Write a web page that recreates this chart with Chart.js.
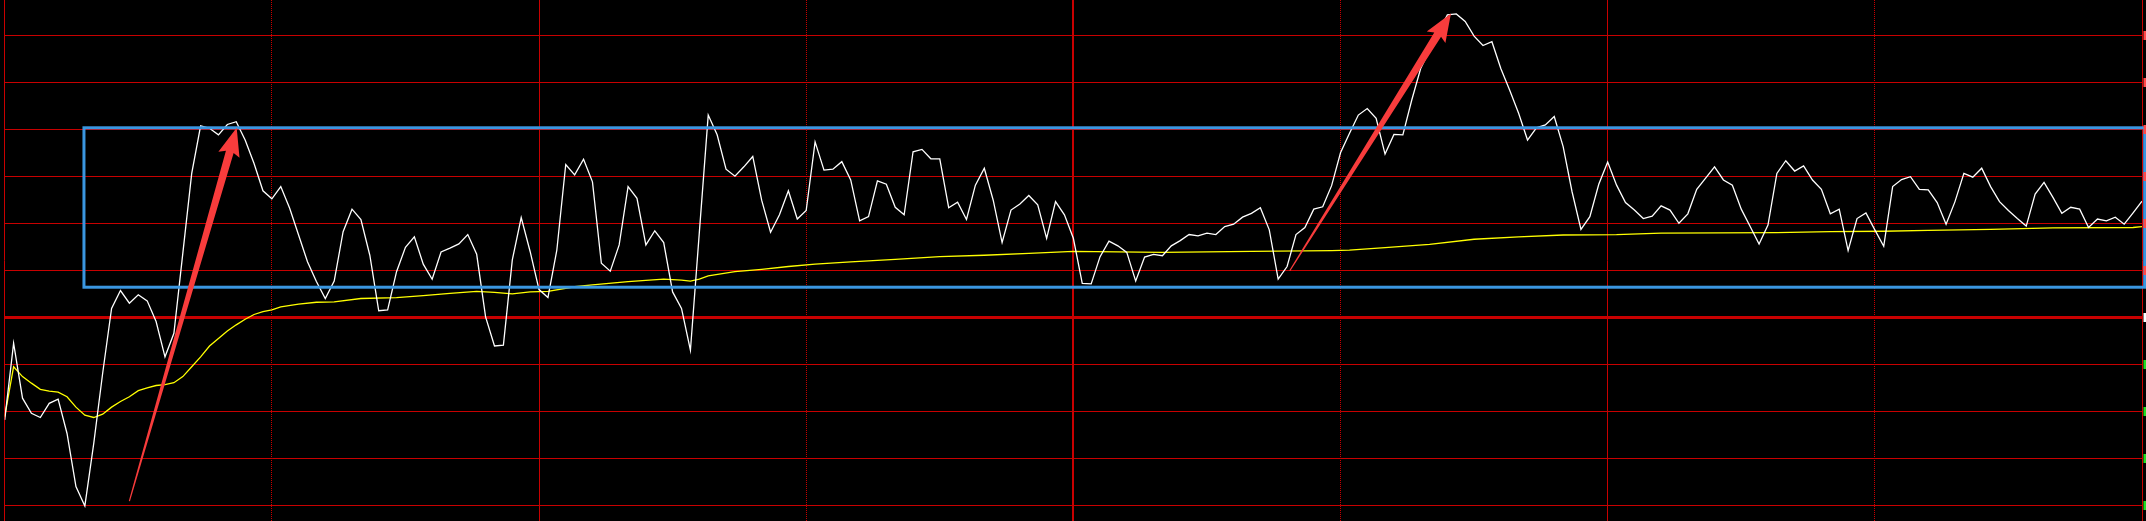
<!DOCTYPE html>
<html>
<head>
<meta charset="utf-8">
<title>分时走势</title>
<script src="https://cdn.jsdelivr.net/npm/chart.js@4/dist/chart.umd.min.js"></script>
<style>
html,body{margin:0;padding:0;background:#000;overflow:hidden}
canvas{display:block}
</style>
</head>
<body>
<canvas id="grafico" width="2146" height="521"></canvas>
<script>

// one value per minute, 9:30 .. 15:00 (241 points), in grid divisions from prev close
let prices=[
-2.18,-0.55,-1.72,-2.04,-2.13,-1.83,-1.74,-2.47,-3.60,-4.01,
-2.68,-1.19,0.19,0.57,0.30,0.48,0.35,-0.09,-0.84,-0.34,
1.36,3.06,4.07,4.02,3.88,4.10,4.16,3.77,3.27,2.69,
2.52,2.78,2.32,1.75,1.18,0.76,0.40,0.77,1.82,2.30,
2.08,1.32,0.14,0.16,0.97,1.49,1.71,1.13,0.81,1.39,
1.47,1.56,1.76,1.34,0.01,-0.61,-0.59,1.22,2.12,1.40,
0.59,0.42,1.43,3.25,3.03,3.36,2.88,1.15,0.98,1.54,
2.78,2.53,1.54,1.84,1.59,0.54,0.19,-0.70,1.80,4.30,
3.88,3.15,3.00,3.20,3.42,2.49,1.81,2.18,2.69,2.09,
2.27,3.73,3.13,3.15,3.31,2.92,2.05,2.14,2.90,2.83,
2.34,2.18,3.52,3.57,3.37,3.37,2.33,2.45,2.08,2.81,
3.17,2.49,1.59,2.28,2.41,2.59,2.39,1.68,2.46,2.18,
1.68,0.72,0.71,1.29,1.62,1.52,1.38,0.77,1.28,1.34,
1.31,1.52,1.63,1.76,1.73,1.79,1.76,1.93,1.98,2.13,
2.21,2.33,1.86,0.81,1.08,1.76,1.91,2.30,2.35,2.80,
3.50,3.91,4.30,4.44,4.23,3.47,3.89,3.88,4.62,5.29,
5.68,6.07,6.43,6.45,6.29,5.98,5.78,5.86,5.29,4.83,
4.34,3.77,4.03,4.09,4.27,3.63,2.67,1.87,2.14,2.83,
3.30,2.81,2.44,2.28,2.10,2.15,2.37,2.28,2.00,2.20,
2.72,2.96,3.20,2.92,2.81,2.30,1.93,1.56,1.96,3.06,
3.33,3.11,3.22,2.92,2.72,2.20,2.30,1.42,2.10,2.22,
1.86,1.51,2.78,2.93,2.99,2.72,2.71,2.44,1.98,2.46,
3.06,2.98,3.17,2.78,2.46,2.27,2.10,1.94,2.62,2.87,
2.55,2.21,2.34,2.30,1.91,2.09,2.05,2.13,1.98,2.22,
2.47
]

// average price line, read at these minutes
let avgMinutes=[
0,1,2,3,4,5,6,7,8,9,10,11,12,13,14,15,16,17,18,19,20,21,22,23,24,25,26,27,28,29,30,31,
33,35,37,40,44,47,50,53,55,57,59,61,64,66,70,74,76,77,78,79,82,85,88,91,95,100,105,110,115,120,
130,140,149,151,155,160,165,170,175,181,186,199,205,211,216,223,230,239,240
]
let avgValues=[
-2.11,-1.05,-1.26,-1.40,-1.53,-1.57,-1.59,-1.69,-1.91,-2.08,-2.13,-2.06,-1.91,-1.79,-1.69,-1.56,-1.50,-1.45,-1.43,-1.39,-1.26,-1.05,-0.84,-0.61,-0.45,-0.29,-0.16,-0.04,0.06,0.12,0.16,0.22,
0.28,0.32,0.33,0.40,0.42,0.46,0.51,0.55,0.53,0.50,0.54,0.55,0.65,0.69,0.76,0.81,0.79,0.77,0.81,0.88,0.97,1.02,1.08,1.13,1.18,1.23,1.29,1.32,1.36,1.40,
1.38,1.40,1.42,1.43,1.48,1.55,1.66,1.71,1.75,1.76,1.79,1.80,1.82,1.83,1.85,1.87,1.90,1.91,1.93
]

let hourTicks=[0,60,120,180,240]
let halfHourTicks=[30,90,150,210]
let priceTicks=[-4,-3,-2,-1,0,1,2,3,4,5,6]
let yRange=[-4.331,6.747]

// blue box [minute from, minute to, value low, value high]
let box=[8.9,240.3,0.64,4.03]
// red arrows [tail minute, tail value, tip minute, tip value]
let arrows=[
[14.0,-3.91,26.05,4.03],
[144.3,0.99,162.4,6.46]
]

let gridRed='#c80000'

function drawArrow(ctx,x0,y0,x1,y1){

let dx=x1-x0
let dy=y1-y0
let len=Math.hypot(dx,dy)
let ux=dx/len,uy=dy/len
let nx=-uy,ny=ux

let headLen=25
let headW=11
let shaftW=4
let tailW=0.6

let bx=x1-ux*headLen
let by=y1-uy*headLen

ctx.beginPath()
ctx.moveTo(x0+nx*tailW,y0+ny*tailW)
ctx.lineTo(bx+nx*shaftW,by+ny*shaftW)
ctx.lineTo(bx-ux*3+nx*headW,by-uy*3+ny*headW)
ctx.lineTo(x1,y1)
ctx.lineTo(bx-ux*3-nx*headW,by-uy*3-ny*headW)
ctx.lineTo(bx-nx*shaftW,by-ny*shaftW)
ctx.lineTo(x0-nx*tailW,y0-ny*tailW)
ctx.closePath()
ctx.fill()

}

let marks={
id:'marks',
afterDatasetsDraw(chart){

let ctx=chart.ctx
let x=chart.scales.x
let y=chart.scales.y

ctx.save()

let l=x.getPixelForValue(box[0])
let r=x.getPixelForValue(box[1])
let t=y.getPixelForValue(box[3])
let b=y.getPixelForValue(box[2])

ctx.strokeStyle='#3a96e0'
ctx.lineWidth=3
ctx.strokeRect(l,t,r-l,b-t)

ctx.fillStyle='#f83c3c'
arrows.forEach(a=>{
drawArrow(
ctx,
x.getPixelForValue(a[0]),
y.getPixelForValue(a[1]),
x.getPixelForValue(a[2]),
y.getPixelForValue(a[3])
)
})

// clipped price labels on the right edge
priceTicks.forEach(v=>{
ctx.fillStyle=v>0?'#ff4a4a':(v<0?'#22dd22':'#ffffff')
let py=Math.round(y.getPixelForValue(v))
ctx.fillRect(chart.width-2.5,py-4,2.5,9)
})

ctx.restore()

}
}

let ctx=document.getElementById('grafico')

new Chart(ctx,{
type:'line',
data:{
datasets:[
{
label:'价格',
data:prices.map((v,i)=>({x:i,y:v})),
borderColor:'#ffffff',
borderWidth:1.3,
pointRadius:0,
tension:0
},
{
label:'均价',
data:avgMinutes.map((m,i)=>({x:m,y:avgValues[i]})),
borderColor:'#ffff00',
borderWidth:1.3,
pointRadius:0,
tension:0
}
]
},
options:{
responsive:false,
animation:false,
events:[],
devicePixelRatio:1,
layout:{
padding:{left:4.7,right:4,top:0,bottom:0}
},
plugins:{
legend:{display:false},
tooltip:{enabled:false}
},
scales:{
x:{
type:'linear',
min:0,
max:240,
afterBuildTicks:s=>{s.ticks=hourTicks.map(v=>({value:v}))},
afterFit:s=>{s.height=0},
ticks:{display:false},
border:{display:false},
grid:{
drawTicks:false,
color:gridRed,
lineWidth:c=>(c.tick&&c.tick.value===120)?2:1
}
},
x2:{
type:'linear',
position:'bottom',
min:0,
max:240,
afterBuildTicks:s=>{s.ticks=halfHourTicks.map(v=>({value:v}))},
afterFit:s=>{s.height=0},
ticks:{display:false},
border:{display:false,dash:[1,1]},
grid:{
drawTicks:false,
color:gridRed,
lineWidth:1
}
},
y:{
min:yRange[0],
max:yRange[1],
afterBuildTicks:s=>{s.ticks=priceTicks.map(v=>({value:v}))},
afterFit:s=>{s.width=0},
ticks:{display:false},
border:{display:false},
grid:{
drawTicks:false,
color:gridRed,
lineWidth:c=>(c.tick&&c.tick.value===0)?3:1
}
}
}
},
plugins:[marks]
})

</script>
</body>
</html>
